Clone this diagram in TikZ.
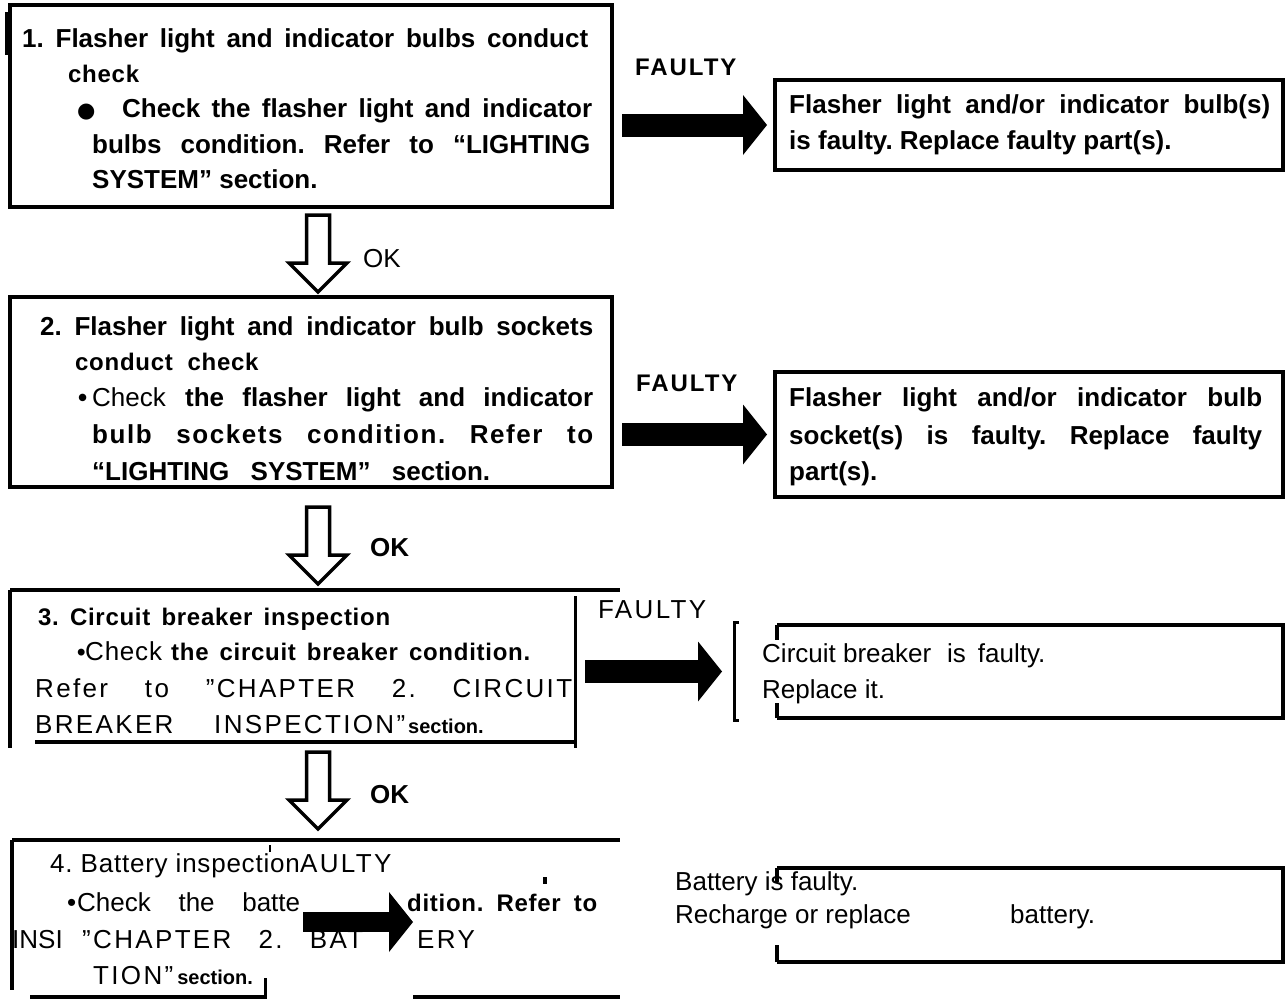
\documentclass[tikz,border=0pt]{standalone}
\usepackage{fontspec}
\setmainfont{Liberation Sans}
\newfontfamily\symfont{DejaVu Sans}
\newcommand\smallsec{\bfseries\fontsize{20}{24}\selectfont\addfontfeature{LetterSpace=0}}
\usetikzlibrary{arrows.meta,positioning,calc}

\tikzset{
  box/.style={draw, line width=4.5pt, inner sep=0pt, outer sep=0pt},
  area/.style={inner sep=0pt, outer sep=0pt},
  frame/.style={line width=4.5pt},
  thinframe/.style={line width=3pt},
  bt/.style={anchor=base west, inner sep=0pt, font=\fontsize{26}{30}\selectfont\bfseries},
  lt/.style={anchor=base west, inner sep=0pt, font=\fontsize{26}{30}\selectfont},
  wide/.style={lt, font=\fontsize{26}{30}\selectfont\addfontfeature{LetterSpace=9}},
  mt/.style={anchor=base west, inner sep=0pt, font=\fontsize{24}{30}\selectfont\bfseries\addfontfeature{LetterSpace=3}},
  faultlbl/.style={bt, font=\fontsize{24}{30}\selectfont\bfseries\addfontfeature{LetterSpace=8}},
  fat/.style={line width=23pt, -{Triangle[length=24pt,width=60pt,line width=0pt]},
    shorten <=10pt, shorten >=8pt},
  okdown/.pic={\draw[line width=3.5pt, line join=miter]
    (-11.5,0) -- (-11.5,48) -- (-29,48) -- (0,77) -- (29,48) -- (11.5,48) -- (11.5,0) -- cycle;}
}

\begin{document}
\frenchspacing
\begin{tikzpicture}[x=1pt,y=-1pt]
\path[use as bounding box, fill=white] (0,0) rectangle (1285,1004);

% step 1
\node[box, minimum width=602pt, minimum height=202pt, anchor=north west] (b1) at (10,5) {};
\draw[line width=4pt] (7,12) -- (7,55);
\node[bt] (b1a) at (22,47) {\makebox[566pt][s]{1. Flasher light and indicator bulbs conduct}};
\node[mt] (b1b) at (68,82) {check};
\node[bt] (b1c) at (77,117) {\makebox[45pt][l]{\symfont\fontsize{21}{21}\selectfont ●}\makebox[470pt][s]{Check the flasher light and indicator}};
\node[bt] (b1d) at (92,153) {\makebox[498pt][s]{bulbs condition. Refer to “LIGHTING}};
\node[bt] (b1e) at (92,188) {SYSTEM” section.};

\node[box, minimum width=508pt, minimum height=90pt, anchor=north west] (r1) at (775,80) {};
\node[bt] (r1a) at (789,113) {\makebox[481pt][s]{Flasher light and/or indicator bulb(s)}};
\node[bt] (r1b) at (789,149) {is faulty. Replace faulty part(s).};
\node[faultlbl] (f1) at (635,75) {FAULTY};
\draw[fat] (b1.east |- r1.west) -- (r1.west);

\path (b1.south) ++(7,8) pic {okdown};
\node[lt] (ok1) at (363,267) {OK};

% step 2
\node[box, minimum width=602pt, minimum height=190pt, anchor=north west] (b2) at (10,297) {};
\node[bt] (b2a) at (40,335) {\makebox[553pt][s]{2. Flasher light and indicator bulb sockets}};
\node[mt] (b2b) at (75,370) {conduct\ \ check};
\node[bt] (b2c) at (78,406) {\makebox[14pt][l]{\textbullet}\makebox[93pt][l]{\mdseries Check}\makebox[408pt][s]{the flasher light and indicator}};
\node[bt] (b2d) at (92,443) {\makebox[501pt][s]{\addfontfeature{LetterSpace=6}bulb sockets condition. Refer to}};
\node[bt] (b2e) at (92,480) {\makebox[398pt][s]{“LIGHTING SYSTEM” section.}};

\node[box, minimum width=508pt, minimum height=125pt, anchor=north west] (r2) at (775,372) {};
\node[bt] (r2a) at (789,406) {\makebox[473pt][s]{Flasher light and/or indicator bulb}};
\node[bt] (r2b) at (789,444) {\makebox[473pt][s]{socket(s) is faulty. Replace faulty}};
\node[bt] (r2c) at (789,480) {part(s).};
\node[faultlbl] (f2) at (636,391) {FAULTY};
\draw[fat] (b2.east |- r2.west) -- (r2.west);

\path (b1.south |- b2.south) ++(7,20) pic {okdown};
\node[bt] (ok2) at (370,556) {OK};

% step 3
\node[area, minimum width=565pt, minimum height=152pt, anchor=north west] (b3) at (10,590) {};
\draw[frame] (b3.north west) -- ++(610,0);
\draw[frame] (b3.north west) -- ++(0,158);
\draw[thinframe] ($(b3.north east)+(0,6)$) -- ++(0,152);
\draw[frame] ($(b3.south west)+(25,0)$) -- (b3.south east);
\node[mt] (b3a) at (38,625) {\makebox[352pt][s]{3. Circuit breaker inspection}};
\node[mt] (b3b) at (77,660) {\makebox[8pt][l]{\textbullet}\makebox[86pt][l]{\mdseries\fontsize{26}{30}\selectfont Check}\makebox[359pt][s]{the circuit breaker condition.}};
\node[wide] (b3c) at (35,697) {\makebox[537pt][s]{Refer to ”CHAPTER 2. CIRCUIT}};
\node[wide] (b3d) at (35,733) {\makebox[370pt][s]{BREAKER INSPECTION”}\hspace{3pt}{\smallsec section.}};

\node[area, minimum width=506pt, minimum height=93pt, anchor=north west] (r3) at (777,625) {};
\draw[frame] (r3.north west) -- (r3.north east) -- (r3.south east) -- (r3.south west);
\draw[frame] (r3.north west) -- ++(0,15);
\draw[frame] (r3.south west) -- ++(0,-15);
\draw[thinframe] (739,622) -- (734,622) -- (734,720) -- (739,720);
\node[lt] (r3a) at (762,662) {Circuit breaker\hspace{16pt}is\hspace{12pt}faulty.};
\node[lt] (r3b) at (762,698) {Replace it.};
\node[wide] (f3) at (598,618) {FAULTY};
\draw[fat, shorten >=55pt] (b3.east |- r3.west) -- (r3.west);

\path (b1.south |- b3.south) ++(7,10) pic {okdown};
\node[bt] (ok3) at (370,803) {OK};

% step 4
\node[area, minimum width=608pt, minimum height=157pt, anchor=north west] (b4) at (12,840) {};
\draw[frame] (b4.north west) -- (b4.north east);
\draw[frame] (b4.north west) -- ++(0,150);
\draw[frame] ($(b4.south west)+(18,0)$) -- ++(237,0);
\draw[frame] ($(b4.south east)+(-207,0)$) -- (b4.south east);
\draw[thinframe] (265,978) -- (265,997);
\draw[line width=1.5pt] (270,845) -- (270,852);
\fill (543,877) rectangle (547,884);
\node[lt, font=\fontsize{26}{30}\selectfont\addfontfeature{LetterSpace=3}] (b4a) at (50,872) {4. Battery inspection};
\node[wide] (f4) at (b4a.base east) {AULTY};
\node[lt] (b4b) at (67,911) {\makebox[10pt][l]{\textbullet}\makebox[223pt][s]{Check the batte}};
\node[mt] (b4c) at (407,911) {\makebox[190pt][s]{dition. Refer to}};
\node[lt] (b4d) at (12,948) {INSI};
\node[wide] (b4e) at (82,948) {\makebox[281pt][s]{”CHAPTER 2. BAT}};
\node[wide] (b4f) at (417,948) {ERY};
\node[wide] (b4g) at (93,984) {TION”\hspace{4pt}{\smallsec section.}};
\coordinate (a4s) at (303,922);
\coordinate (a4e) at (413,922);
\draw[fat, line width=20pt, shorten <=0pt, shorten >=0pt] (a4s) -- (a4e);

\node[area, minimum width=506pt, minimum height=94pt, anchor=north west] (r4) at (777,868) {};
\draw[frame] (r4.north west) -- (r4.north east) -- (r4.south east) -- (r4.south west);
\draw[frame] (r4.north west) -- ++(0,14);
\draw[frame] (r4.south west) -- ++(0,-17);
\node[lt] (r4a) at (675,890) {Battery is faulty.};
\node[lt] (r4b) at (675,923) {Recharge or replace};
\node[lt] (r4c) at (1010,923) {battery.};
\end{tikzpicture}
\end{document}
